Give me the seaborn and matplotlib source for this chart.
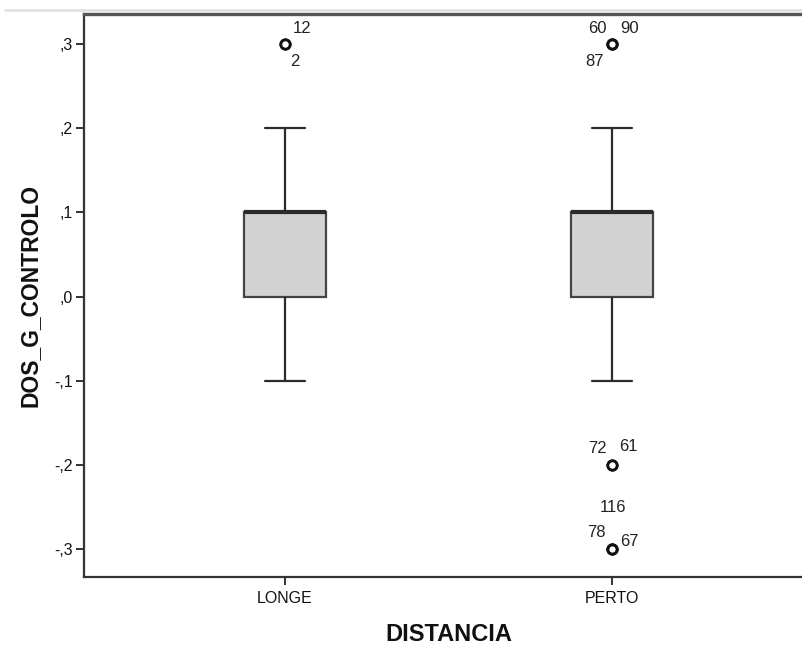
import numpy as np
import pandas as pd
import matplotlib
matplotlib.use("Agg")
import matplotlib.pyplot as plt
from matplotlib.lines import Line2D
import seaborn as sns

# Observed DOS_G_CONTROLO scores (frequency table per distance group)
levels = [-0.3, -0.2, -0.1, 0.0, 0.1, 0.2, 0.3]
counts_longe = [0, 0, 6, 14, 25, 8, 2]
counts_perto = [3, 2, 6, 15, 27, 7, 3]
groups = ["LONGE", "PERTO"]

# Case numbers of the outlying observations
outlier_case = ["12", "2", "60", "90", "87", "72", "61", "116", "78", "67"]
outlier_group = ["LONGE", "LONGE", "PERTO", "PERTO", "PERTO",
                 "PERTO", "PERTO", "PERTO", "PERTO", "PERTO"]
outlier_value = [0.3, 0.3, 0.3, 0.3, 0.3, -0.2, -0.2, -0.3, -0.3, -0.3]

ytick_values = [-0.3, -0.2, -0.1, 0.0, 0.1, 0.2, 0.3]
ytick_labels = ["-,3", "-,2", "-,1", ",0", ",1", ",2", ",3"]

df = pd.DataFrame({
    "DISTANCIA": np.repeat(groups, [sum(counts_longe), sum(counts_perto)]),
    "DOS_G_CONTROLO": np.concatenate([np.repeat(levels, counts_longe),
                                      np.repeat(levels, counts_perto)]),
})

sns.set_theme(style="ticks")
plt.rcParams["font.family"] = ["Liberation Sans", "DejaVu Sans"]

W, H = 803, 648
fig = plt.figure(figsize=(W / 100, H / 100), dpi=100)
fig.patch.set_facecolor("white")
# axes run past the right edge of the canvas
ax = fig.add_axes([84 / W, (H - 577) / H, (813 - 84) / W, (577 - 14) / H])
ax.set_facecolor("white")

line_col = "#2b2b2b"
sns.boxplot(
    data=df, x="DISTANCIA", y="DOS_G_CONTROLO", order=groups,
    width=0.25, color="#d3d3d3", saturation=1, linecolor=line_col,
    linewidth=1.6, whis=1.5, ax=ax,
    flierprops=dict(marker="o", markersize=6.8, markerfacecolor="none",
                    markeredgecolor="#111111", markeredgewidth=1.9),
    medianprops=dict(color=line_col, linewidth=3.0),
    boxprops=dict(edgecolor="#444444"),
)

# case-number labels beside the outliers (pixel offsets)
offsets = [(17, 16), (10, -17), (-15, 16), (18, 16), (-17, -17),
           (-15, 16), (16, 18), (1, 41), (-16, 16), (17, 7)]
for txt, g, v, (dx, dy) in zip(outlier_case, outlier_group, outlier_value, offsets):
    ax.annotate(txt, xy=(groups.index(g), v), xytext=(dx, dy),
                textcoords="offset pixels", ha="center", va="center",
                fontsize=12, color="#222222")

ax.set_xlim(-0.615, 1.615)
ax.set_ylim(-0.3333, 0.3357)
ax.set_yticks(ytick_values)
ax.set_yticklabels(ytick_labels)

for side in ["left", "bottom", "top", "right"]:
    ax.spines[side].set_color("#333333")
    ax.spines[side].set_linewidth(1.6)
ax.spines["top"].set_linewidth(2.4)
ax.spines["top"].set_color("#555555")

ax.tick_params(axis="both", direction="out", length=6, width=1.4,
               color="#333333", labelsize=11.5, labelcolor="#111111")
ax.tick_params(axis="y", pad=2)
ax.tick_params(axis="x", pad=4)

ax.set_xlabel("DISTANCIA", fontsize=17, fontweight="bold", labelpad=12,
              color="#111111")
ax.set_ylabel("DOS_G_CONTROLO", fontsize=16.5, fontweight="bold",
              labelpad=9, color="#111111")

# thin grey rule along the top of the canvas
fig.add_artist(Line2D([5 / W, 1.0], [1 - 10 / H, 1 - 10 / H],
                      color="#e2e2e2", linewidth=2.0,
                      transform=fig.transFigure))

fig.savefig("out.png", dpi=100, facecolor="white")
